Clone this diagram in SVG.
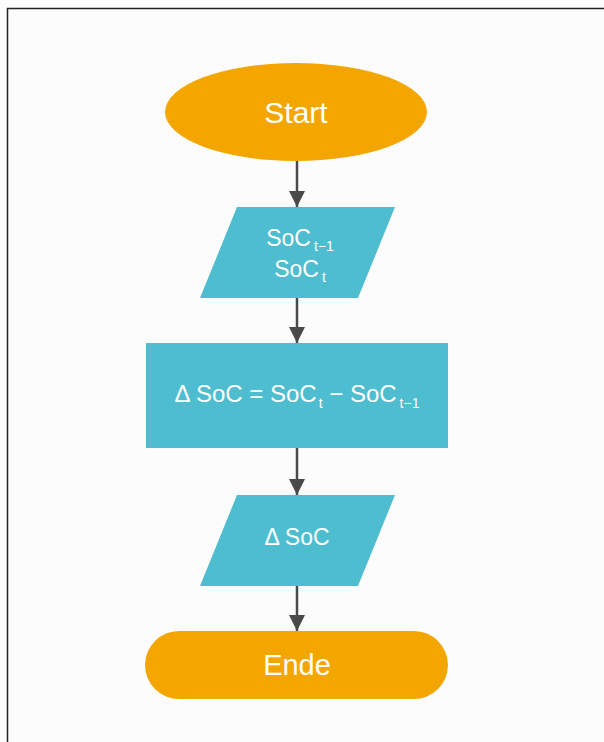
<svg xmlns="http://www.w3.org/2000/svg" width="604" height="742" viewBox="0 0 604 742">
<defs>
<style>
.term{fill:#F4A600;}
.io{fill:#4DBDCF;}
.lbl{fill:#ffffff;font-family:"Liberation Sans",Arial,sans-serif;text-anchor:middle;}
.sub{font-size:14px;}
.conn{stroke:#4a4a4a;stroke-width:2.5;fill:none;marker-end:url(#ah);}
</style>
<marker id="ah" markerUnits="userSpaceOnUse" markerWidth="16" markerHeight="18" refX="16" refY="8" orient="auto">
<path d="M0,0 L16,8 L0,16 Z" fill="#4a4a4a"/>
</marker>
</defs>
<rect x="0" y="0" width="604" height="742" fill="#fcfcfc"/>
<path d="M7.5,742 V8.5 H604" fill="none" stroke="#222" stroke-width="1.5"/>
<g id="connectors">
<line class="conn" x1="297" y1="161" x2="297" y2="207"/>
<line class="conn" x1="297" y1="298" x2="297" y2="343"/>
<line class="conn" x1="297" y1="448" x2="297" y2="495"/>
<line class="conn" x1="297" y1="586" x2="297" y2="631"/>
</g>
<g id="start">
<ellipse class="term" cx="296" cy="112" rx="131" ry="49"/>
<text class="lbl" x="296" y="123" font-size="30">Start</text>
</g>
<g id="input">
<polygon class="io" points="237,207 395,207 358,298 200,298"/>
<text class="lbl" x="300" y="246" font-size="23">SoC<tspan class="sub" dx="3" dy="5">t−1</tspan></text>
<text class="lbl" x="300" y="277" font-size="23">SoC<tspan class="sub" dx="3" dy="5">t</tspan></text>
</g>
<g id="process">
<rect class="io" x="146" y="343" width="302" height="105"/>
<text class="lbl" x="297" y="402" font-size="24">Δ SoC = SoC<tspan class="sub" dx="2" dy="6">t</tspan><tspan dy="-6"> − SoC</tspan><tspan class="sub" dx="3" dy="6">t−1</tspan></text>
</g>
<g id="output">
<polygon class="io" points="237,495 395,495 358,586 200,586"/>
<text class="lbl" x="297" y="545" font-size="23">Δ SoC</text>
</g>
<g id="end">
<rect class="term" x="145" y="631" width="303" height="68" rx="34" ry="34"/>
<text class="lbl" x="297" y="675" font-size="29">Ende</text>
</g>
</svg>
